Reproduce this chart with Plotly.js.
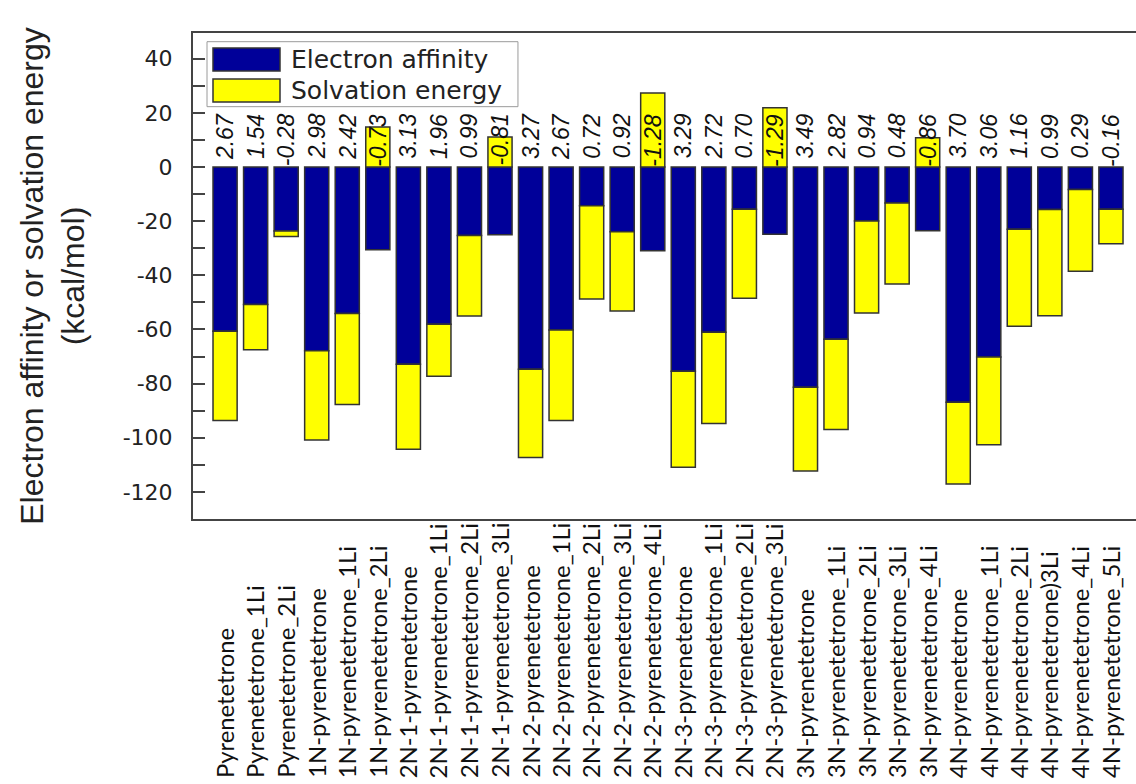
<!DOCTYPE html>
<html>
<head>
<meta charset="utf-8">
<script src="https://cdn.plot.ly/plotly-3.0.1.min.js"></script>
<style>
  html, body { margin: 0; padding: 0; background: #ffffff; }
  #chart { width: 1136px; height: 784px; }
</style>
</head>
<body>
<div id="chart"></div>
<script>
const categories = [
  "Pyrenetetrone", "Pyrenetetrone_1Li", "Pyrenetetrone_2Li",
  "1N-pyrenetetrone", "1N-pyrenetetrone_1Li", "1N-pyrenetetrone_2Li",
  "2N-1-pyrenetetrone", "2N-1-pyrenetetrone_1Li", "2N-1-pyrenetetrone_2Li", "2N-1-pyrenetetrone_3Li",
  "2N-2-pyrenetetrone", "2N-2-pyrenetetrone_1Li", "2N-2-pyrenetetrone_2Li", "2N-2-pyrenetetrone_3Li", "2N-2-pyrenetetrone_4Li",
  "2N-3-pyrenetetrone", "2N-3-pyrenetetrone_1Li", "2N-3-pyrenetetrone_2Li", "2N-3-pyrenetetrone_3Li",
  "3N-pyrenetetrone", "3N-pyrenetetrone_1Li", "3N-pyrenetetrone_2Li", "3N-pyrenetetrone_3Li", "3N-pyrenetetrone_4Li",
  "4N-pyrenetetrone", "4N-pyrenetetrone_1Li", "4N-pyrenetetrone_2Li", "4N-pyrenetetrone)3Li", "4N-pyrenetetrone_4Li", "4N-pyrenetetrone_5Li"
];

// Electron affinity (kcal/mol)
const electronAffinity = [
  -60.7, -50.8, -23.6,
  -67.9, -54.1, -30.6,
  -72.8, -58.1, -25.3, -25.0,
  -74.7, -60.2, -14.3, -23.9, -30.9,
  -75.4, -61.0, -15.6, -24.8,
  -81.3, -63.6, -19.9, -13.3, -23.5,
  -86.9, -70.2, -23.0, -15.7, -8.3, -15.6
];

// Solvation energy (kcal/mol), stacked on the electron affinity
const solvationEnergy = [
  -32.9, -16.7, -2.1,
  -32.9, -33.6, 14.8,
  -31.4, -19.2, -29.7, 11.1,
  -32.6, -33.4, -34.4, -29.3, 27.3,
  -35.5, -33.7, -32.9, 21.9,
  -31.0, -33.3, -34.0, -29.9, 10.8,
  -30.2, -32.4, -35.8, -39.2, -30.2, -12.7
];

// Values written above each bar
const valueLabels = [
  "2.67", "1.54", "-0.28",
  "2.98", "2.42", "-0.73",
  "3.13", "1.96", "0.99", "-0.81",
  "3.27", "2.67", "0.72", "0.92", "-1.28",
  "3.29", "2.72", "0.70", "-1.29",
  "3.49", "2.82", "0.94", "0.48", "-0.86",
  "3.70", "3.06", "1.16", "0.99", "0.29", "-0.16"
];

const seriesNames = ["Electron affinity", "Solvation energy"];
const seriesColors = ["#000099", "#ffff00"];
const yTickValues = [40, 20, 0, -20, -40, -60, -80, -100, -120];

const idx = categories.map((c, i) => i);
const barLine = { color: "#333333", width: 1.5 };

const traces = [
  {
    type: "bar", name: seriesNames[0], x: idx, y: electronAffinity,
    marker: { color: seriesColors[0], line: barLine }, showlegend: false
  },
  {
    type: "bar", name: seriesNames[1], x: idx, y: solvationEnergy,
    marker: { color: seriesColors[1], line: barLine }, showlegend: false
  }
];

const annotations = [];
// value labels above the zero line
valueLabels.forEach((t, i) => {
  annotations.push({
    x: i, y: 20.5, xref: "x", yref: "y", text: t, showarrow: false,
    textangle: -90, xanchor: "center", yanchor: "top",
    font: { family: "Liberation Sans, Arial, sans-serif", size: 23, color: "#111111", style: "italic" }
  });
});
// category labels, bottom aligned
categories.forEach((c, i) => {
  annotations.push({
    x: i, y: -0.537, xref: "x", yref: "paper", text: c, showarrow: false,
    textangle: -90, xanchor: "center", yanchor: "bottom",
    font: { family: "Lato, Calibri, sans-serif", size: 23.8, color: "#111111" }
  });
});
// legend text
annotations.push({
  x: 0.1018, y: 0.9455, xref: "paper", yref: "paper", text: seriesNames[0], showarrow: false,
  xanchor: "left", yanchor: "middle",
  font: { family: "DejaVu Sans, sans-serif", size: 25, color: "#222222" }
});
annotations.push({
  x: 0.1018, y: 0.8817, xref: "paper", yref: "paper", text: seriesNames[1], showarrow: false,
  xanchor: "left", yanchor: "middle",
  font: { family: "DejaVu Sans, sans-serif", size: 25, color: "#222222" }
});

const shapes = [
  { type: "rect", xref: "paper", yref: "paper", x0: 0.01485, x1: 0.3446, y0: 0.8484, y1: 0.9821,
    line: { color: "#9a9a9a", width: 1 }, fillcolor: "#ffffff", layer: "above" },
  { type: "rect", xref: "paper", yref: "paper", x0: 0.02121, x1: 0.09226, y0: 0.9218, y1: 0.9691,
    line: { color: "#333333", width: 1.5 }, fillcolor: seriesColors[0], layer: "above" },
  { type: "rect", xref: "paper", yref: "paper", x0: 0.02121, x1: 0.09226, y0: 0.8580, y1: 0.9053,
    line: { color: "#333333", width: 1.5 }, fillcolor: seriesColors[1], layer: "above" }
];

const layout = {
  width: 1136, height: 784,
  margin: { l: 193, r: 0, t: 33, b: 265, pad: 0 },
  paper_bgcolor: "#ffffff", plot_bgcolor: "#ffffff",
  barmode: "relative", bargap: 0.21,
  showlegend: false,
  xaxis: {
    range: [-1.05, 29.82], showticklabels: false, ticks: "",
    showgrid: false, zeroline: false,
    showline: true, linecolor: "#444444", linewidth: 2, mirror: true
  },
  yaxis: {
    range: [-130, 49.5], tickvals: yTickValues, ticktext: yTickValues.map(String),
    ticks: "inside", ticklen: 12, tickwidth: 2, tickcolor: "#444444",
    minor: { dtick: 10, ticks: "inside", ticklen: 12, tickwidth: 2, tickcolor: "#444444" },
    showgrid: false, zeroline: false,
    showline: true, linecolor: "#444444", linewidth: 2, mirror: true,
    ticklabelstandoff: 14,
    tickfont: { family: "DejaVu Sans, sans-serif", size: 22, color: "#222222" },
    title: {
      text: "Electron affinity or solvation energy<br>(kcal/mol)",
      font: { family: "Liberation Sans, Arial, sans-serif", size: 32, color: "#222222" },
      standoff: 28
    }
  },
  annotations: annotations,
  shapes: shapes
};

Plotly.newPlot("chart", traces, layout, { staticPlot: true, displayModeBar: false });
</script>
</body>
</html>
